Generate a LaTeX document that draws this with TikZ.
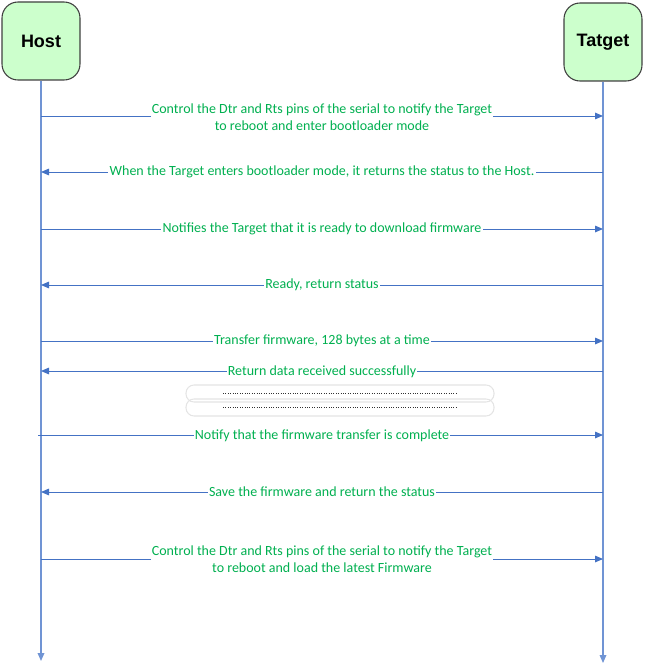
\documentclass[tikz,border=0pt]{standalone}
\usepackage{fontspec}
\setmainfont{Carlito}
\newfontfamily\titlefont{Liberation Sans}
\usetikzlibrary{arrows.meta}
\definecolor{lineblue}{HTML}{4472C4}
\definecolor{lifeblue}{HTML}{7094D4}
\definecolor{txtgreen}{HTML}{00B050}
\definecolor{boxgreen}{HTML}{CCFFCC}
\definecolor{boxedge}{HTML}{404040}
\definecolor{dotbox}{HTML}{E4E4E4}
\tikzset{
  x=0.75pt, y=-0.75pt,
  actor/.style={draw=boxedge, fill=boxgreen, rounded corners=12pt, line width=0.8pt,
    minimum width=58.5pt, minimum height=58.5pt, font=\titlefont\bfseries\fontsize{13.5}{16}\selectfont, inner sep=0pt},
  lifeline/.style={draw=lifeblue, line width=0.9pt, -{Triangle[length=6pt,width=5pt]}},
  msg/.style={draw=lineblue, line width=0.7pt, -{Triangle[length=6pt,width=5pt]}},
  lbl/.style={fill=white, text=txtgreen, font=\fontsize{10.5}{12.75}\selectfont, inner sep=1pt, align=center},
  dbox/.style={draw=dotbox, rounded corners=6pt, line width=0.8pt},
  dots/.style={draw=black!80, line width=0.6pt, dash pattern=on 0.5pt off 1.3pt}
}
\begin{document}
\begin{tikzpicture}
\useasboundingbox (0,0) rectangle (654,670);
\node[actor] (host) at (41,41) {Host};
\node[actor] (tgt) at (603,42) {Tatget};
\coordinate (hend) at (41,661);
\coordinate (tend) at (603,663);
\draw[lifeline] (host.south) -- (hend);
\draw[lifeline] (tgt.south) -- (tend);
% messages
\coordinate (h1) at (41,116); \coordinate (t1) at (603,116);
\coordinate (h2) at (41,172); \coordinate (t2) at (603,172);
\coordinate (h3) at (41,229); \coordinate (t3) at (603,229);
\coordinate (h4) at (41,285); \coordinate (t4) at (603,285);
\coordinate (h5) at (41,341); \coordinate (t5) at (603,341);
\coordinate (h6) at (41,371); \coordinate (t6) at (603,371);
\coordinate (h7) at (38,435); \coordinate (t7) at (603,435);
\coordinate (h8) at (41,492); \coordinate (t8) at (603,492);
\coordinate (h9) at (41,559); \coordinate (t9) at (603,559);
\draw[msg] (h1) -- (t1);
\node[lbl] (l1) at (322,117) {Control the Dtr and Rts pins of the serial to notify the Target\\to reboot and enter bootloader mode};
\draw[msg] (t2) -- (h2);
\node[lbl] (l2) at (322,172) {When the Target enters bootloader mode, it returns the status to the Host.};
\draw[msg] (h3) -- (t3);
\node[lbl] (l3) at (322,229) {Notifies the Target that it is ready to download firmware};
\draw[msg] (t4) -- (h4);
\node[lbl] (l4) at (322,285) {Ready, return status};
\draw[msg] (h5) -- (t5);
\node[lbl] (l5) at (322,341) {Transfer firmware, 128 bytes at a time};
\draw[msg] (t6) -- (h6);
\node[lbl] (l6) at (322,372) {Return data received successfully};
\draw[dbox] (186,385) rectangle (494,402);
\draw[dbox] (186,399) rectangle (494,416);
\draw[dots] (223,393) -- (457,393);
\draw[dots] (223,407) -- (457,407);
\draw[msg] (h7) -- (t7);
\node[lbl] (l7) at (322,436) {Notify that the firmware transfer is complete};
\draw[msg] (t8) -- (h8);
\node[lbl] (l8) at (322,492) {Save the firmware and return the status};
\draw[msg] (h9) -- (t9);
\node[lbl] (l9) at (322,559) {Control the Dtr and Rts pins of the serial to notify the Target\\to reboot and load the latest Firmware};
\end{tikzpicture}
\end{document}
